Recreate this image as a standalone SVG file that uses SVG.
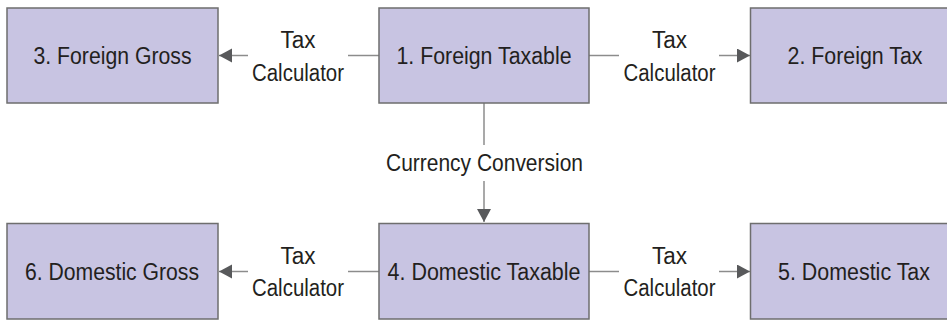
<svg xmlns="http://www.w3.org/2000/svg" width="947" height="322" viewBox="0 0 947 322">
<style>
.box{fill:#c8c4e2;stroke:#6e6e6e;stroke-width:1.5}
.lbl{font-family:"Liberation Sans",Arial,sans-serif;font-size:23.5px;fill:#231f20;text-anchor:middle}
.ln{stroke:#8c8c8c;stroke-width:1.5;fill:none}
</style>
<defs>
<marker id="ah" markerUnits="userSpaceOnUse" markerWidth="14" markerHeight="15" refX="13" refY="7" orient="auto">
<path d="M0,0 L13,7 L0,14 z" fill="#58595b"/>
</marker>
</defs>
<rect width="947" height="322" fill="#ffffff"/>
<g id="connectors">
<line class="ln" x1="379" y1="55.5" x2="348" y2="55.5"/>
<line class="ln" x1="248" y1="55.5" x2="219" y2="55.5" marker-end="url(#ah)"/>
<text class="lbl" x="298" y="48" textLength="35" lengthAdjust="spacingAndGlyphs">Tax</text>
<text class="lbl" x="298" y="80.5" textLength="92" lengthAdjust="spacingAndGlyphs">Calculator</text>
<line class="ln" x1="589" y1="55.5" x2="619" y2="55.5"/>
<line class="ln" x1="719" y1="55.5" x2="750" y2="55.5" marker-end="url(#ah)"/>
<text class="lbl" x="669.5" y="48" textLength="35" lengthAdjust="spacingAndGlyphs">Tax</text>
<text class="lbl" x="669.5" y="80.5" textLength="92" lengthAdjust="spacingAndGlyphs">Calculator</text>
<line class="ln" x1="484" y1="103" x2="484" y2="145"/>
<line class="ln" x1="484" y1="181" x2="484" y2="222" marker-end="url(#ah)"/>
<text class="lbl" x="484.5" y="171" textLength="197" lengthAdjust="spacingAndGlyphs">Currency Conversion</text>
<line class="ln" x1="379" y1="271.5" x2="348" y2="271.5"/>
<line class="ln" x1="248" y1="271.5" x2="219" y2="271.5" marker-end="url(#ah)"/>
<text class="lbl" x="298" y="264" textLength="35" lengthAdjust="spacingAndGlyphs">Tax</text>
<text class="lbl" x="298" y="296" textLength="92" lengthAdjust="spacingAndGlyphs">Calculator</text>
<line class="ln" x1="589" y1="271.5" x2="619" y2="271.5"/>
<line class="ln" x1="719" y1="271.5" x2="750" y2="271.5" marker-end="url(#ah)"/>
<text class="lbl" x="669.5" y="264" textLength="35" lengthAdjust="spacingAndGlyphs">Tax</text>
<text class="lbl" x="669.5" y="296" textLength="92" lengthAdjust="spacingAndGlyphs">Calculator</text>
</g>
<g id="node1">
<rect class="box" x="379" y="8" width="210" height="95"/>
<text class="lbl" x="484" y="64" textLength="175" lengthAdjust="spacingAndGlyphs">1. Foreign Taxable</text>
</g>
<g id="node2">
<rect class="box" x="750.5" y="8" width="210" height="95"/>
<text class="lbl" x="855" y="64" textLength="135" lengthAdjust="spacingAndGlyphs">2. Foreign Tax</text>
</g>
<g id="node3">
<rect class="box" x="7" y="8" width="211" height="95"/>
<text class="lbl" x="112.5" y="64" textLength="158" lengthAdjust="spacingAndGlyphs">3. Foreign Gross</text>
</g>
<g id="node4">
<rect class="box" x="379" y="223.5" width="210" height="95.5"/>
<text class="lbl" x="484" y="280" textLength="193" lengthAdjust="spacingAndGlyphs">4. Domestic Taxable</text>
</g>
<g id="node5">
<rect class="box" x="750.5" y="223.5" width="210" height="95.5"/>
<text class="lbl" x="854" y="280" textLength="152" lengthAdjust="spacingAndGlyphs">5. Domestic Tax</text>
</g>
<g id="node6">
<rect class="box" x="7" y="223.5" width="211" height="95.5"/>
<text class="lbl" x="112" y="280" textLength="174" lengthAdjust="spacingAndGlyphs">6. Domestic Gross</text>
</g>
</svg>
